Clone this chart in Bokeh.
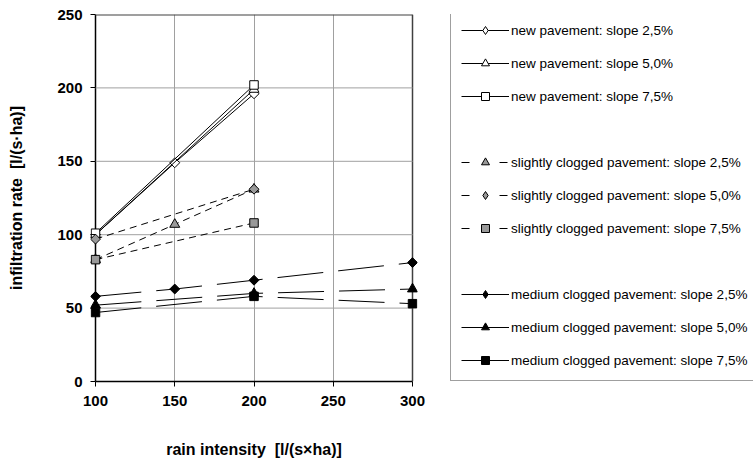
import math
from bokeh.plotting import figure
from bokeh.layouts import row
from bokeh.models import Range1d, FixedTicker, Span, Legend, LegendItem
from bokeh.embed import file_html
from bokeh.resources import INLINE

# ---------------- data ----------------
X_TICKS = [100, 150, 200, 250, 300]
Y_TICKS = [0, 50, 100, 150, 200, 250]

new_25_x = [100, 150, 200]
new_25_y = [100, 149, 196]
new_50_x = [100, 200]
new_50_y = [100, 199]
new_75_x = [100, 200]
new_75_y = [101, 202]

sl_25_x = [100, 150, 200]
sl_25_y = [83, 107, 131]
sl_50_x = [100, 200]
sl_50_y = [97, 131]
sl_75_x = [100, 200]
sl_75_y = [83, 108]

med_25_x = [100, 150, 200, 300]
med_25_y = [58, 63, 69, 81]
med_50_x = [100, 200, 300]
med_50_y = [52, 60, 63]
med_75_x = [100, 200, 300]
med_75_y = [47, 58, 53]

LABELS = [
    "new pavement: slope 2,5%",
    "new pavement: slope 5,0%",
    "new pavement: slope 7,5%",
    "slightly clogged pavement: slope 2,5%",
    "slightly clogged pavement: slope 5,0%",
    "slightly clogged pavement: slope 7,5%",
    "medium clogged pavement: slope 2,5%",
    "medium clogged pavement: slope 5,0%",
    "medium clogged pavement: slope 7,5%",
]
X_TITLE = "rain intensity \u00a0[l/(s\u00d7ha)]"
Y_TITLE = "infiltration rate \u00a0[l/(s\u00b7ha)]"

# ---------------- geometry ----------------
W, H = 753, 460
PW = 430               # width of the chart figure; the legend figure takes the rest
FL, FT, FB = 90, 14, 382
PLOT_W = 317           # pixel width of 100..300
PAD = 5
scale = PLOT_W / (X_TICKS[-1] - X_TICKS[0])
x_start = X_TICKS[0] - PAD / scale
x_end = X_TICKS[-1] + PAD / scale
FR = FL + PLOT_W + 2 * PAD

FONT = "Liberation Sans"
GRAY = "#999999"
BORDER = "#404040"
SLIGHT_DASH = "7 5"
MED_DASH = "46 15"
NAN = [float("nan")]

p = figure(width=PW, height=H,
           x_range=Range1d(x_start, x_end),
           y_range=Range1d(Y_TICKS[0], Y_TICKS[-1]),
           output_backend="svg", toolbar_location=None,
           min_border_left=FL, min_border_right=PW - FR,
           min_border_top=FT, min_border_bottom=H - FB)
p.outline_line_color = None
p.background_fill_color = "white"
p.border_fill_color = "white"

# grids
p.ygrid.visible = False
p.xgrid.ticker = FixedTicker(ticks=X_TICKS)
p.xgrid.bounds = (X_TICKS[0], X_TICKS[-1])
p.xgrid.grid_line_color = "#a0a0a0"
p.xgrid.grid_line_width = 1

# x axis
xa = p.xaxis[0]
xa.ticker = FixedTicker(ticks=X_TICKS)
xa.bounds = (X_TICKS[0], X_TICKS[-1])
xa.axis_line_color = "black"
xa.axis_line_width = 1.5
xa.major_tick_out = 5
xa.major_tick_in = 0
xa.minor_tick_out = 0
xa.minor_tick_in = 0
xa.major_tick_line_color = "black"
xa.major_label_standoff = 9
xa.major_label_text_font = FONT
xa.major_label_text_font_size = "15px"
xa.major_label_text_font_style = "bold"
xa.major_label_text_color = "black"
xa.axis_label = X_TITLE
xa.axis_label_text_font = FONT
xa.axis_label_text_font_size = "16px"
xa.axis_label_text_font_style = "bold"
xa.axis_label_text_color = "black"
xa.axis_label_standoff = 32

# y axis (its line is drawn as a span at x=100)
ya = p.yaxis[0]
ya.ticker = FixedTicker(ticks=Y_TICKS)
ya.axis_line_color = None
ya.major_tick_out = 0
ya.major_tick_in = PAD
ya.minor_tick_out = 0
ya.minor_tick_in = 0
ya.major_tick_line_color = "black"
ya.major_label_standoff = 8
ya.major_label_text_font = FONT
ya.major_label_text_font_size = "15px"
ya.major_label_text_font_style = "bold"
ya.major_label_text_color = "black"
ya.axis_label = Y_TITLE
ya.axis_label_text_font = FONT
ya.axis_label_text_font_size = "16px"
ya.axis_label_text_font_style = "bold"
ya.axis_label_text_color = "black"
ya.axis_label_standoff = 29

p.add_layout(Span(location=X_TICKS[0], dimension="height", line_color="black",
                  line_width=1.5, level="underlay"))
p.add_layout(Span(location=X_TICKS[-1], dimension="height", line_color=BORDER,
                  line_width=1.5, level="underlay"))

# horizontal grid lines + top border
inner = Y_TICKS[1:-1]
p.segment(x0=[X_TICKS[0]] * len(inner), x1=[X_TICKS[-1]] * len(inner),
          y0=inner, y1=inner, line_color="#a0a0a0", line_width=1)
p.segment(x0=[X_TICKS[0]], x1=[X_TICKS[-1]], y0=[Y_TICKS[-1]], y1=[Y_TICKS[-1]],
          line_color=BORDER, line_width=2)

# ---------------- series ----------------
series = [
    (new_25_x, new_25_y, "solid", "diamond", "white"),
    (new_50_x, new_50_y, "solid", "triangle", "white"),
    (new_75_x, new_75_y, "solid", "square", "white"),
    (sl_25_x, sl_25_y, SLIGHT_DASH, "triangle", GRAY),
    (sl_50_x, sl_50_y, SLIGHT_DASH, "diamond", GRAY),
    (sl_75_x, sl_75_y, SLIGHT_DASH, "square", GRAY),
    (med_25_x, med_25_y, MED_DASH, "diamond", "black"),
    (med_50_x, med_50_y, MED_DASH, "triangle", "black"),
    (med_75_x, med_75_y, MED_DASH, "square", "black"),
]

for xs, ys, dash, marker, fill in series:
    p.line(xs, ys, line_color="black", line_width=1, line_dash=dash)
    if marker == "diamond":
        p.scatter(xs, ys, marker="square", angle=math.pi / 4, size=7,
                  fill_color=fill, line_color="black", line_width=1)
    else:
        p.scatter(xs, ys, marker=marker,
                  size=10 if marker == "triangle" else 8.5,
                  fill_color=fill, line_color="black", line_width=1)

# ---------------- legend (separate figure to the right) ----------------
q = figure(width=W - PW, height=H, x_range=Range1d(0, 1), y_range=Range1d(0, 1),
           output_backend="svg", toolbar_location=None,
           x_axis_type=None, y_axis_type=None,
           min_border_left=0, min_border_right=0,
           min_border_top=0, min_border_bottom=H - FB)
q.outline_line_color = None
q.background_fill_color = "white"
q.border_fill_color = "white"

solid_dummy = q.line(NAN, NAN, line_color="black", line_width=1)
dash_dummy = q.line(NAN, NAN, line_color="black", line_width=1, line_dash="8 30")
blank = q.line(NAN, NAN, line_alpha=0)

items = []
for i, (lab, (xs, ys, dash, marker, fill)) in enumerate(zip(LABELS, series)):
    if i in (3, 6):
        items.append(LegendItem(label=" ", renderers=[blank]))
    ln = dash_dummy if dash == SLIGHT_DASH else solid_dummy
    mk = q.scatter(NAN, NAN, marker=marker, size=8, fill_color=fill,
                   line_color="black", line_width=1)
    items.append(LegendItem(label=lab, renderers=[ln, mk]))

legend = Legend(items=items, location=(450 - PW, 0),
                orientation="vertical", padding=10, spacing=13, margin=0,
                glyph_width=48, glyph_height=20, label_height=20,
                label_standoff=2,
                label_text_font=FONT, label_text_font_size="13.5px",
                label_text_color="black", label_text_baseline="middle",
                border_line_color=BORDER, border_line_width=1.5,
                background_fill_color="white", background_fill_alpha=1.0)
q.add_layout(legend)

layout = row(p, q, spacing=0)
open("out.html", "w").write(file_html(layout, INLINE))
